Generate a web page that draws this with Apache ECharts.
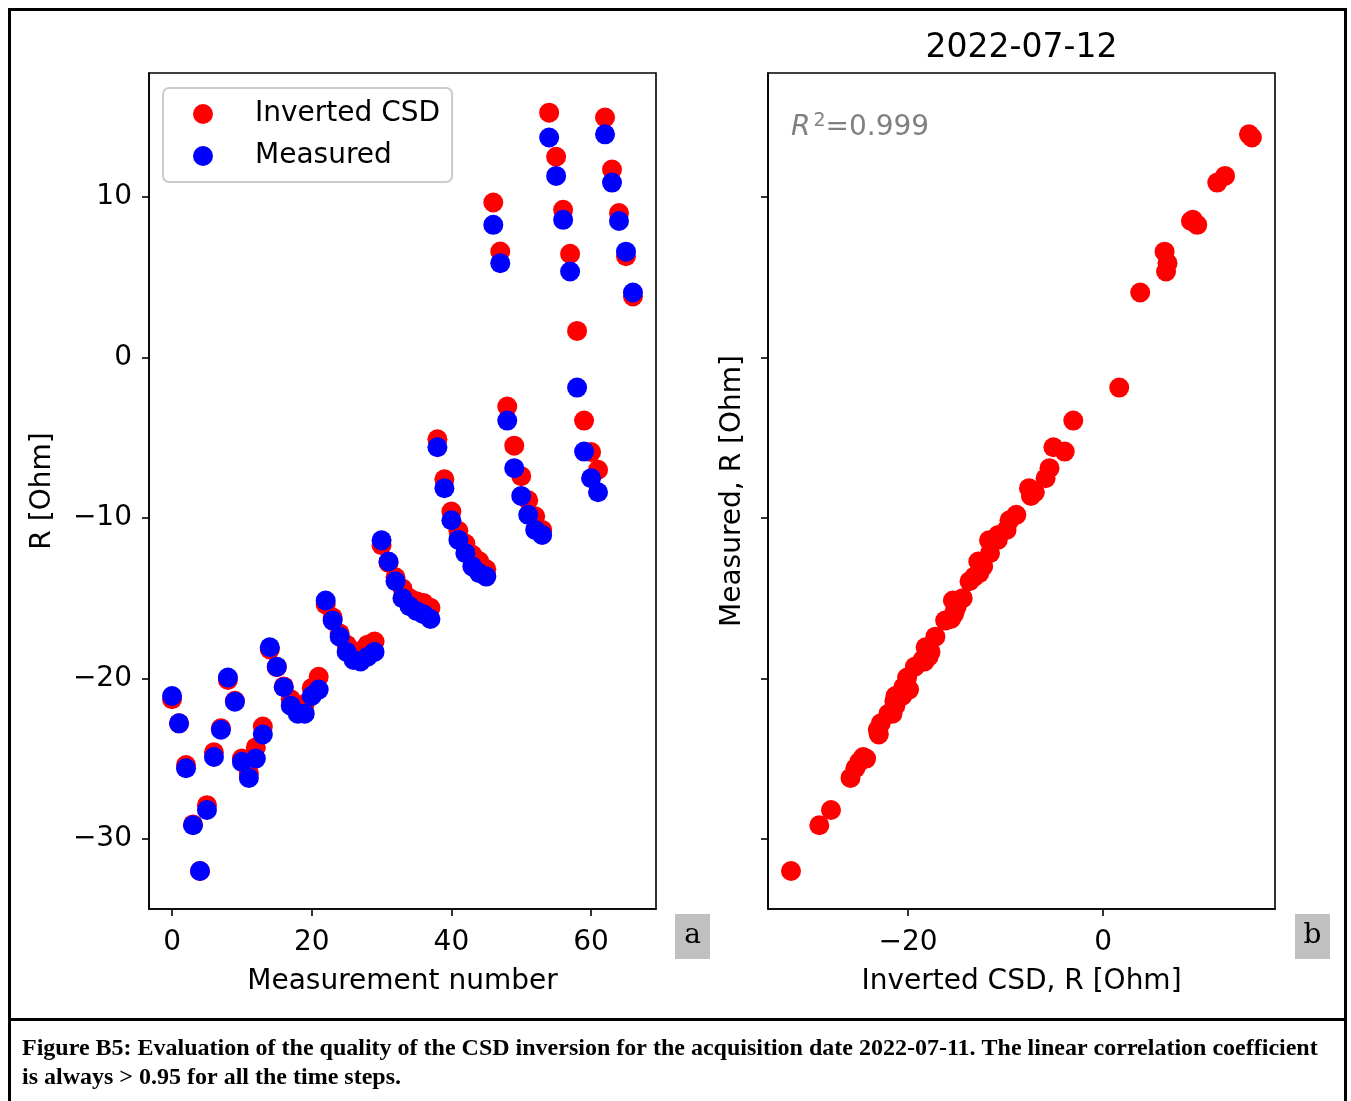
<!DOCTYPE html>
<html>
<head>
<meta charset="utf-8">
<script src="https://cdn.jsdelivr.net/npm/echarts@6/dist/echarts.min.js"></script>
<style>
html,body{margin:0;padding:0;background:#fff;}
#chart{width:1351px;height:1101px;}
</style>
</head>
<body>
<div id="chart"></div>
<script>
// Inverted CSD (red), indexed by measurement number 0..66
const invertedCSD = [
  -21.3, -22.8, -25.4, -29.1, -32.0, -27.9, -24.6, -23.1, -20.1, -21.4,
  -25.0, -25.9, -24.3, -23.0, -18.2, -19.3, -20.5, -21.3, -22.0, -21.6,
  -20.6, -19.9, -15.4, -16.2, -17.2, -17.9, -18.5, -18.3, -17.9, -17.7,
  -11.7, -12.8, -13.7, -14.4, -15.0, -15.2, -15.3, -15.6, -5.1, -7.6,
  -9.6, -10.8, -11.6, -12.3, -12.7, -13.2, 9.65, 6.6, -3.06, -5.5,
  -7.4, -8.9, -9.9, -10.75, 15.25, 12.5, 9.2, 6.45, 1.65, -3.94,
  -5.9, -7.0, 14.95, 11.7, 9.0, 6.3, 3.8
];
// Measured (blue)
const measured = [
  -21.1, -22.8, -25.6, -29.15, -32.0, -28.2, -24.9, -23.2, -19.95, -21.45,
  -25.2, -26.2, -25.0, -23.5, -18.06, -19.27, -20.55, -21.7, -22.2, -22.2,
  -21.1, -20.7, -15.15, -16.4, -17.4, -18.35, -18.85, -18.95, -18.65, -18.35,
  -11.4, -12.72, -13.95, -15.0, -15.5, -15.8, -16.0, -16.3, -5.6, -8.15,
  -10.15, -11.37, -12.2, -13.03, -13.45, -13.66, 8.26, 5.87, -3.94, -6.9,
  -8.63, -9.81, -10.75, -11.06, 13.7, 11.31, 8.57, 5.35, -1.88, -5.87,
  -7.53, -8.4, 13.9, 10.89, 8.5, 6.59, 4.04
];
const xTicksLeft = [0, 20, 40, 60];
const xTicksRight = [-20, 0];
const yTicks = [-30, -20, -10, 0, 10];
const titleText = '2022-07-12';
const r2Text = '0.999';

const FONT = 'DejaVu Sans';
const fmt = v => (v < 0 ? '\u2212' + Math.abs(v) : String(v));

const leftRed = invertedCSD.map((v, i) => [i, v]);
const leftBlue = measured.map((v, i) => [i, v]);
const rightPts = invertedCSD.map((v, i) => [v, measured[i]]);

function valueAxis(gridIndex, min, max, ticks, showLabels, margin, pad) {
  return {
    gridIndex, type: 'value', min, max,
    splitLine: { show: false },
    axisLine: { show: true, onZero: false, lineStyle: { color: '#000', width: 1.6 } },
    axisTick: { show: true, customValues: ticks, length: 7, inside: false, lineStyle: { color: '#000', width: 1.6 } },
    axisLabel: { show: showLabels, customValues: ticks, formatter: fmt, fontSize: 28, fontFamily: FONT, color: '#000', margin: margin, padding: pad }
  };
}

const chart = echarts.init(document.getElementById('chart'), null, { renderer: 'canvas' });
const option = {
  animation: false,
  backgroundColor: '#fff',
  textStyle: { fontFamily: FONT },
  grid: [
    { left: 149, top: 73, width: 507, height: 836, show: true, borderColor: '#000', borderWidth: 1.6, backgroundColor: '#fff' },
    { left: 768, top: 73, width: 507, height: 836, show: true, borderColor: '#000', borderWidth: 1.6, backgroundColor: '#fff' }
  ],
  xAxis: [
    valueAxis(0, -3.3, 69.3, xTicksLeft, true, 20, [0, 0, 0, 0]),
    valueAxis(1, -34.36, 17.62, xTicksRight, true, 20, [0, 0, 0, 0])
  ],
  yAxis: [
    valueAxis(0, -34.37, 17.72, yTicks, true, 17, [5, 0, 0, 0]),
    valueAxis(1, -34.37, 17.72, yTicks, false, 17, [5, 0, 0, 0])
  ],
  legend: {
    left: 163, top: 88, orient: 'vertical',
    itemWidth: 20, itemHeight: 20, itemGap: 14,
    padding: [12, 12, 12, 30],
    borderColor: '#cccccc', borderWidth: 2, borderRadius: 6,
    backgroundColor: 'rgba(255,255,255,0.8)',
    selectedMode: false,
    textStyle: { fontSize: 28, color: '#000', fontFamily: FONT, padding: [0, 0, 0, 37] },
    data: [{ name: 'Inverted CSD', icon: 'circle' }, { name: 'Measured', icon: 'circle' }]
  },
  series: [
    { name: 'Inverted CSD', type: 'scatter', xAxisIndex: 0, yAxisIndex: 0, data: leftRed, symbol: 'circle', symbolSize: 20, itemStyle: { color: '#ff0000', opacity: 1 }, emphasis: { disabled: true }, z: 2 },
    { name: 'Measured', type: 'scatter', xAxisIndex: 0, yAxisIndex: 0, data: leftBlue, symbol: 'circle', symbolSize: 20, itemStyle: { color: '#0000ff', opacity: 1 }, emphasis: { disabled: true }, z: 3 },
    { name: 'Measured vs inverted', type: 'scatter', xAxisIndex: 1, yAxisIndex: 1, data: rightPts, symbol: 'circle', symbolSize: 20, itemStyle: { color: '#ff0000', opacity: 1 }, emphasis: { disabled: true }, z: 2 }
  ],
  graphic: [
    { type: 'rect', z: -10, shape: { x: 9.5, y: 9.5, width: 1336, height: 1110 }, style: { fill: 'none', stroke: '#000', lineWidth: 3 } },
    { type: 'line', z: -10, shape: { x1: 9, y1: 1019.5, x2: 1346, y2: 1019.5 }, style: { stroke: '#000', lineWidth: 3 } },
    { type: 'text', x: 1021.5, y: 48, style: { text: titleText, fontSize: 33, fontFamily: FONT, fill: '#000', align: 'center', verticalAlign: 'middle' } },
    { type: 'text', x: 402.5, y: 982, style: { text: 'Measurement number', fontSize: 28, fontFamily: FONT, fill: '#000', align: 'center', verticalAlign: 'middle' } },
    { type: 'text', x: 1021.5, y: 982, style: { text: 'Inverted CSD, R [Ohm]', fontSize: 28, fontFamily: FONT, fill: '#000', align: 'center', verticalAlign: 'middle' } },
    { type: 'text', x: 43, y: 491, rotation: Math.PI / 2, style: { text: 'R [Ohm]', fontSize: 28, fontFamily: FONT, fill: '#000', align: 'center', verticalAlign: 'middle' } },
    { type: 'text', x: 733, y: 491, rotation: Math.PI / 2, style: { text: 'Measured, R [Ohm]', fontSize: 28, fontFamily: FONT, fill: '#000', align: 'center', verticalAlign: 'middle' } },
    { type: 'text', x: 791, y: 112, z: 10, style: {
        text: '{i|R}{s|2}{n|=' + r2Text + '}',
        rich: {
          i: { fontSize: 28, fontStyle: 'italic', fontFamily: FONT, fill: '#808080', lineHeight: 30, verticalAlign: 'bottom' },
          s: { fontSize: 19, fontFamily: FONT, fill: '#808080', lineHeight: 30, verticalAlign: 'top', padding: [0, 0, 0, 3] },
          n: { fontSize: 28, fontFamily: FONT, fill: '#808080', lineHeight: 30, verticalAlign: 'bottom' }
        }
    } },
    { type: 'rect', shape: { x: 675, y: 914, width: 35, height: 45 }, style: { fill: '#c0c0c0' } },
    { type: 'text', x: 692.5, y: 936, style: { text: 'a', fontSize: 28, fontFamily: 'DejaVu Serif', fill: '#000', align: 'center', verticalAlign: 'middle' } },
    { type: 'rect', shape: { x: 1295, y: 914, width: 35, height: 45 }, style: { fill: '#c0c0c0' } },
    { type: 'text', x: 1312.5, y: 936, style: { text: 'b', fontSize: 28, fontFamily: 'DejaVu Serif', fill: '#000', align: 'center', verticalAlign: 'middle' } },
    { type: 'text', x: 22, y: 1049, style: { text: 'Figure B5: Evaluation of the quality of the CSD inversion for the acquisition date 2022-07-11. The linear correlation coefficient', fontSize: 24, fontWeight: 'bold', fontFamily: 'Liberation Serif', fill: '#000', align: 'left', verticalAlign: 'middle' } },
    { type: 'text', x: 22, y: 1078, style: { text: 'is always > 0.95 for all the time steps.', fontSize: 24, fontWeight: 'bold', fontFamily: 'Liberation Serif', fill: '#000', align: 'left', verticalAlign: 'middle' } }
  ]
};
chart.setOption(option);
</script>
</body>
</html>
